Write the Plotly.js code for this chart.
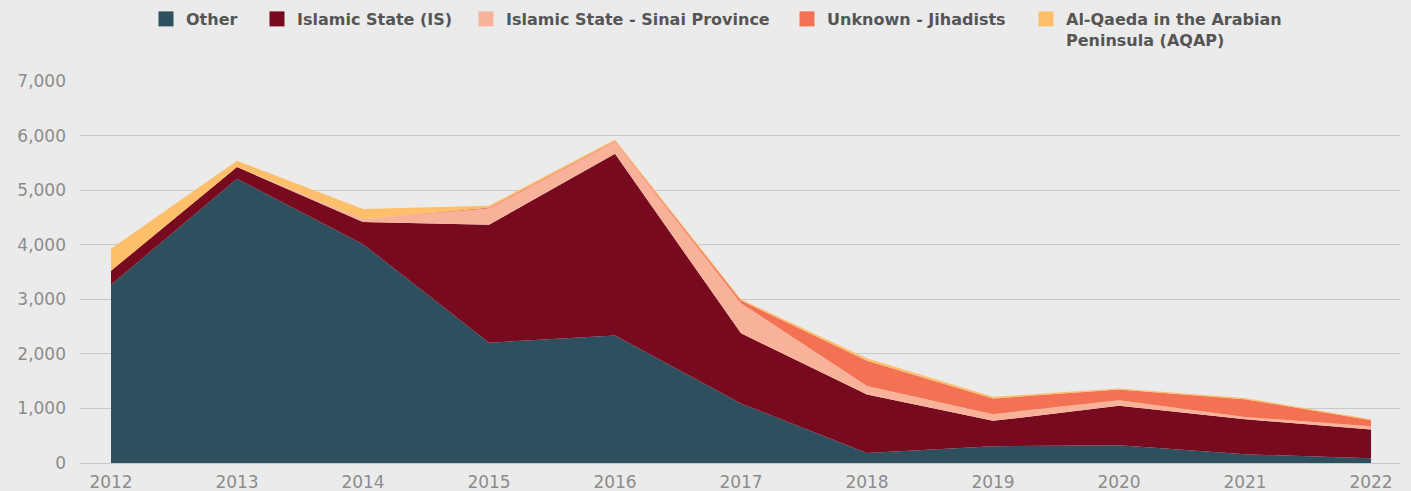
<!DOCTYPE html>
<html>
<head>
<meta charset="utf-8">
<script src="https://cdn.plot.ly/plotly-3.0.1.min.js"></script>
<style>html,body{margin:0;padding:0;background:#ebebeb;}#chart{width:1411px;height:491px;}</style>
</head>
<body>
<div id="chart"></div>
<script>
const years = [2012, 2013, 2014, 2015, 2016, 2017, 2018, 2019, 2020, 2021, 2022];
const other   = [3265, 5210, 4010, 2205, 2335, 1090, 185, 307, 325, 160, 86];
const isMain  = [257, 215, 406, 2160, 3330, 1287, 1072, 465, 722, 643, 527];
const sinai   = [0, 0, 51, 300, 220, 552, 152, 123, 105, 42, 61];
const unknown = [0, 0, 0, 15, 15, 47, 465, 288, 196, 325, 110];
const aqap    = [404, 115, 188, 35, 29, 26, 44, 30, 19, 19, 19];
const seriesNames = ['Other', 'Islamic State (IS)', 'Islamic State - Sinai Province', 'Unknown - Jihadists', 'Al-Qaeda in the Arabian<br>Peninsula (AQAP)'];
const yTicks = [0, 1000, 2000, 3000, 4000, 5000, 6000, 7000];

const colors = ['#2e4f5e', '#770a1f', '#f9b29a', '#f47254', '#fdbf6a'];
const seriesValues = [other, isMain, sinai, unknown, aqap];
const legendIds = ['legend', 'legend2', 'legend3', 'legend4', 'legend5'];
const legendX = [146, 257, 466, 787, 1026];

const W = 1411, H = 491, ML = 80, MR = 11, MT = 81, MB = 28;
const PW = W - ML - MR, PH = H - MT - MB;

const traces = [];
seriesValues.forEach((vals, i) => {
  traces.push({
    type: 'scatter', mode: 'lines', x: years, y: vals,
    stackgroup: 'one', name: seriesNames[i],
    line: {width: 0, color: colors[i]}, fillcolor: colors[i],
    showlegend: false, hoverinfo: 'x+y+name'
  });
});
seriesValues.forEach((vals, i) => {
  traces.push({
    type: 'scatter', mode: 'markers', x: [null], y: [null],
    name: seriesNames[i], legend: legendIds[i],
    marker: {symbol: 'square', size: 15, color: colors[i]},
    showlegend: true, hoverinfo: 'skip'
  });
});

const layout = {
  width: W, height: H,
  paper_bgcolor: '#ebebeb', plot_bgcolor: '#ebebeb',
  margin: {l: ML, r: MR, t: MT, b: MB, autoexpand: false},
  font: {family: 'DejaVu Sans, sans-serif', color: '#888888', size: 17},
  xaxis: {
    range: [2011.754, 2022.23], tickvals: years, ticktext: years.map(String),
    showgrid: false, zeroline: false, showline: false, ticks: '',
    tickfont: {family: 'DejaVu Sans, sans-serif', size: 17, color: '#8c8c8c'}, ticklabelstandoff: 7, fixedrange: true
  },
  yaxis: {
    range: [0, 7000], tickvals: yTicks, ticktext: yTicks.map(v => v.toLocaleString('en-US')),
    showgrid: true, gridcolor: '#c9c9c9', gridwidth: 1,
    zeroline: true, zerolinecolor: '#c9c9c9', zerolinewidth: 1,
    showline: false, ticks: '', tickfont: {family: 'DejaVu Sans, sans-serif', size: 17, color: '#8c8c8c'},
    ticklabelstandoff: 13, fixedrange: true
  },
  showlegend: true
};
legendIds.forEach((id, i) => {
  layout[id] = {
    xref: 'paper', yref: 'paper', x: (legendX[i] - ML) / PW, y: 1 + (MT - 2) / PH,
    xanchor: 'left', yanchor: 'top', orientation: 'v', valign: 'top',
    bgcolor: 'rgba(0,0,0,0)', borderwidth: 0,
    font: {family: 'DejaVu Sans, sans-serif', size: 16, color: '#555555', weight: 'bold'},
    itemclick: false, itemdoubleclick: false
  };
});

Plotly.newPlot('chart', traces, layout, {displayModeBar: false, staticPlot: true});
</script>
</body>
</html>
